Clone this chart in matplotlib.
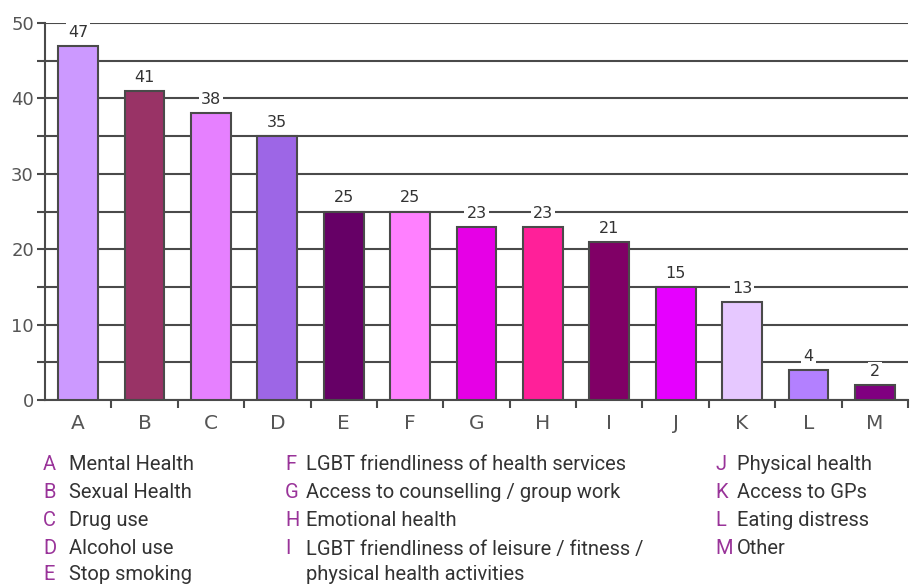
import matplotlib.pyplot as plt
from matplotlib.ticker import MultipleLocator

letters = ['A', 'B', 'C', 'D', 'E', 'F', 'G', 'H', 'I', 'J', 'K', 'L', 'M']
values = [47, 41, 38, 35, 25, 25, 23, 23, 21, 15, 13, 4, 2]
colors = ['#cc99ff', '#993366', '#e680ff', '#9d66e6', '#660066', '#ff80ff', '#e600e6',
          '#ff2099', '#800066', '#e600ff', '#e6c8ff', '#b380ff', '#800080']
descriptions = ['Mental Health', 'Sexual Health', 'Drug use', 'Alcohol use', 'Stop smoking',
                'LGBT friendliness of health services', 'Access to counselling / group work',
                'Emotional health', 'LGBT friendliness of leisure / fitness /\nphysical health activities',
                'Physical health', 'Access to GPs', 'Eating distress', 'Other']

fig = plt.figure(figsize=(9.11, 5.88), dpi=100)
ax = fig.add_axes([45 / 911, 188 / 588, 863 / 911, 377 / 588])

grid_c = '#4a4a4a'
x = range(len(letters))
ax.set_axisbelow(True)
ax.yaxis.grid(True, which='both', color=grid_c, linewidth=1.5)
ax.bar(x, values, width=0.6, color=colors, edgecolor=grid_c, linewidth=1.5, zorder=3)
for i, v in enumerate(values):
    ax.text(i, v + 0.8, str(v), ha='center', va='bottom', fontsize=11.5, color='#333333',
            family='DejaVu Sans', zorder=4,
            bbox=dict(facecolor='white', edgecolor='none', pad=1.5))

ax.set_xlim(-0.5, len(letters) - 0.5)
ax.set_ylim(0, 50)
ax.yaxis.set_major_locator(MultipleLocator(10))
ax.yaxis.set_minor_locator(MultipleLocator(5))
ax.set_xticks([i + 0.5 for i in range(len(letters))])
ax.set_xticklabels([])
ax.set_xticks(list(x), minor=True)
ax.set_xticklabels(letters, minor=True)
ax.tick_params(axis='x', which='major', length=6, width=1.5, color=grid_c)
ax.tick_params(axis='x', which='minor', length=0, pad=10, labelsize=14.5, labelcolor='#555555')
ax.tick_params(axis='y', which='both', length=6, width=1.5, color=grid_c,
               labelsize=13, labelcolor='#555555', pad=2)
for s in ['top', 'right']:
    ax.spines[s].set_visible(False)
for s in ['left', 'bottom']:
    ax.spines[s].set_color(grid_c)
    ax.spines[s].set_linewidth(1.5)

# legend text below the chart
cols = [(43, 69, range(0, 5)), (285, 306, range(5, 9)), (715, 737, range(9, 13))]
row_y = [465, 493, 521, 549, 575]
for lx, tx, idx in cols:
    for r, i in enumerate(idx):
        fig.text(lx / 911, 1 - row_y[r] / 588, letters[i], color='#993399', fontsize=14.5,
                 va='center', family='Roboto')
        for k, line in enumerate(descriptions[i].split('\n')):
            fig.text(tx / 911, 1 - row_y[r + k] / 588, line, color='#333333',
                     fontsize=14.5, va='center', family='Roboto')

fig.savefig('out.png', dpi=100)
